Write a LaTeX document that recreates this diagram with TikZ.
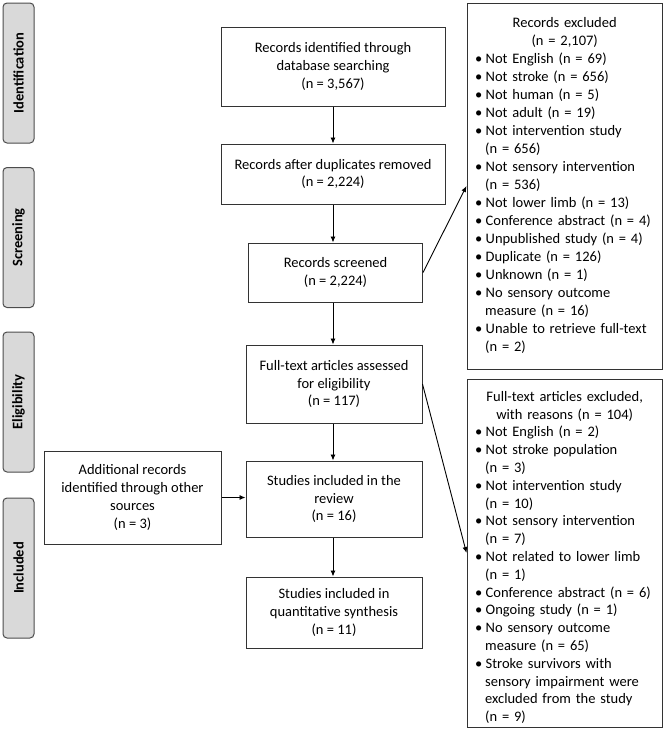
\documentclass[tikz,border=0pt]{standalone}
\usepackage{fontspec}
\setmainfont{Carlito}
\usetikzlibrary{arrows.meta,calc}
\newcommand\fs{\fontsize{14.5}{17.7}\selectfont}
\newcommand\fsl{\fontsize{14.5}{18}\selectfont}
\newcommand\fsm{\fontsize{14.5}{17.8}\selectfont}
\newcommand\bul{\makebox[10.5pt][l]{•}}
\newcommand\ind{\hspace*{10pt}}
\begin{document}
\begin{tikzpicture}[x=1pt,y=-1pt,
  box/.style={draw=black!80, line width=1pt, align=center, inner sep=0pt, font=\fs},
  phase/.style={draw=black!70, fill=black!15, rounded corners=4pt, line width=1pt, rotate=90,
    minimum width=140pt, minimum height=31pt, inner sep=0pt, font=\fs\bfseries},
  listtxt/.style={align=left, text width=179pt, inner sep=0pt},
  arr/.style={-{Latex[length=6pt,width=5pt]}, line width=0.9pt, black}]
\useasboundingbox (0,0) rectangle (666,737);
% phase labels
\node[phase] (p1) at (18.5,73) {Identification};
\node[phase] (p2) at (18.5,237.5) {Screening};
\node[phase] (p3) at (18.5,402) {Eligibility};
\node[phase] (p4) at (18.5,568) {Included};
% main boxes
\node[box, minimum width=224pt, minimum height=79pt] (id) at (333,66.5) {Records identified through\\database searching\\(n = 3,567)};
\node[box, minimum width=224pt, minimum height=60pt] (dup) at (333,174) {Records after duplicates removed\\(n = 2,224)};
\node[box, minimum width=174pt, minimum height=59pt] (scr) at (335.5,272.5) {Records screened\\(n = 2,224)};
\node[box, minimum width=176pt, minimum height=78pt] (full) at (334,384) {Full-text articles assessed\\for eligibility\\(n = 117)};
\node[box, minimum width=176pt, minimum height=76pt] (incl) at (334,499) {Studies included in the\\review\\(n = 16)};
\node[box, minimum width=176pt, minimum height=71pt] (quant) at (334,612.5) {Studies included in\\quantitative synthesis\\(n = 11)};
\node[box, minimum width=177pt, minimum height=93pt] (add) at (132.5,497.5) {Additional records\\identified through other\\sources\\(n = 3)};
% exclusion boxes
\node[box, minimum width=195pt, minimum height=366pt] (ex1) at (564.5,186) {};
\node[box, minimum width=195pt, minimum height=348pt] (ex2) at (564.5,553) {};
\node[listtxt, font=\fsl, anchor=north west] (ex1t) at (475,17.5) {%
\makebox[179pt]{Records excluded}\\
\makebox[179pt]{(n = 2,107)}\\
\bul Not English (n = 69)\\
\bul Not stroke (n = 656)\\
\bul Not human (n = 5)\\
\bul Not adult (n = 19)\\
\bul Not intervention study\\
\ind (n = 656)\\
\bul Not sensory intervention\\
\ind (n = 536)\\
\bul Not lower limb (n = 13)\\
\bul Conference abstract (n = 4)\\
\bul Unpublished study (n = 4)\\
\bul Duplicate (n = 126)\\
\bul Unknown (n = 1)\\
\bul No sensory outcome\\
\ind measure (n = 16)\\
\bul Unable to retrieve full-text\\
\ind (n = 2)};
\node[listtxt, font=\fsm, anchor=north west] (ex2t) at (475,391) {%
\makebox[179pt]{Full-text articles excluded,}\\
\makebox[179pt]{with reasons (n = 104)}\\
\bul Not English (n = 2)\\
\bul Not stroke population\\
\ind (n = 3)\\
\bul Not intervention study\\
\ind (n = 10)\\
\bul Not sensory intervention\\
\ind (n = 7)\\
\bul Not related to lower limb\\
\ind (n = 1)\\
\bul Conference abstract (n = 6)\\
\bul Ongoing study (n = 1)\\
\bul No sensory outcome\\
\ind measure (n = 65)\\
\bul Stroke survivors with\\
\ind sensory impairment were\\
\ind excluded from the study\\
\ind (n = 9)};
% connectors
\draw[arr] (id) -- (dup);
\draw[arr] (dup.south) -- (dup.south |- scr.north);
\draw[arr] (scr.south -| dup.south) -- (full.north -| dup.south);
\draw[arr] (full.south -| dup.south) -- (incl.north -| dup.south);
\draw[arr] (incl.south -| dup.south) -- (quant.north -| dup.south);
\draw[arr] (add.east) -- (add.east -| incl.west);
\draw[arr] (scr.east) -- (ex1.west);
\draw[arr] (full.east) -- (ex2.west);
\end{tikzpicture}
\end{document}
